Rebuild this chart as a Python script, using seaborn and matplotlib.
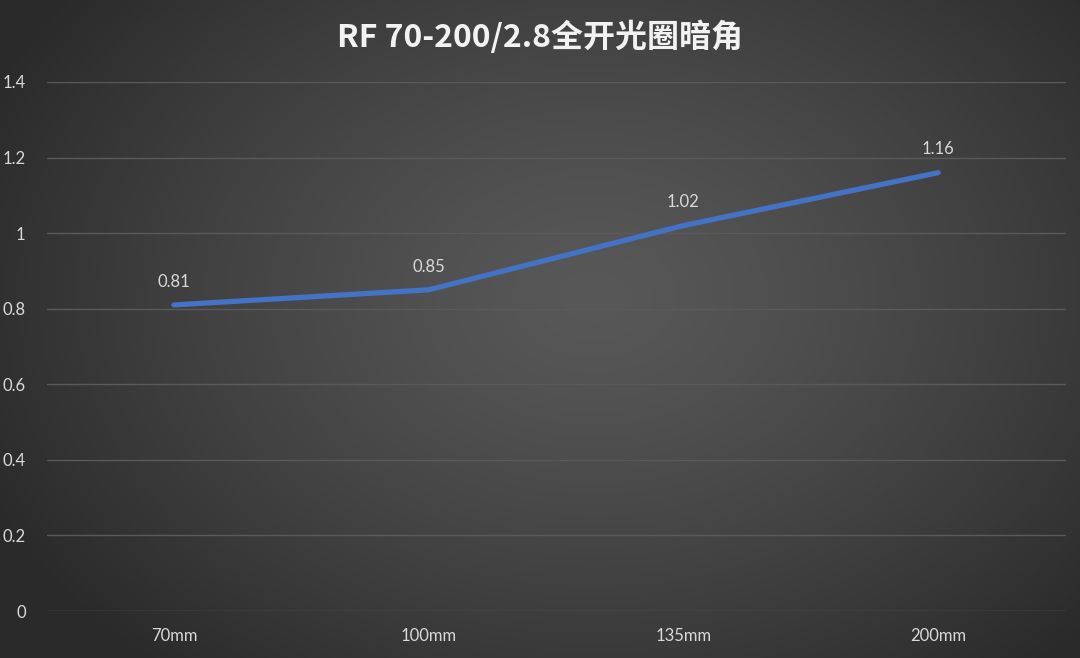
import numpy as np
import pandas as pd
import matplotlib
matplotlib.use("Agg")
import matplotlib.pyplot as plt
import seaborn as sns

categories = ["70mm", "100mm", "135mm", "200mm"]
values = [0.81, 0.85, 1.02, 1.16]
y_ticks = [0, 0.2, 0.4, 0.6, 0.8, 1, 1.2, 1.4]
y_tick_labels = ["0", "0.2", "0.4", "0.6", "0.8", "1", "1.2", "1.4"]
title = "RF 70-200/2.8全开光圈暗角"

sns.set_theme(style="white")
plt.rcParams['font.family'] = ['Lato', 'Noto Sans CJK SC', 'DejaVu Sans']

W, H = 1080, 658
fig = plt.figure(figsize=(W / 100, H / 100), dpi=100)

# radial gradient background
bg = fig.add_axes([0, 0, 1, 1], zorder=0)
yy, xx = np.mgrid[0:H, 0:W]
cx, cy = W * 0.55, H * 0.45
r = np.sqrt(((xx - cx) / (W * 0.62)) ** 2 + ((yy - cy) / (H * 0.75)) ** 2)
r = np.clip(r, 0, 1)
inner, outer = 0x58 / 255, 0x2a / 255
g = inner + (outer - inner) * r ** 1.3
bg.imshow(np.dstack([g, g, g]), aspect="auto", extent=[0, 1, 0, 1])
bg.axis("off")

ax = fig.add_axes([46.5 / W, 1 - 611 / H, (1065.5 - 46.5) / W, (611 - 82) / H], zorder=1)
ax.patch.set_alpha(0)

df = pd.DataFrame({"cat": categories, "val": values})
sns.lineplot(data=df, x="cat", y="val", ax=ax, color="#4472C4", linewidth=3.8,
             sort=False, solid_capstyle="round")

ax.set_xlim(-0.5, len(categories) - 0.5)
ax.set_ylim(0, 1.4)
ax.set_yticks(y_ticks)
ax.set_yticklabels(y_tick_labels)
ax.set_xlabel("")
ax.set_ylabel("")
ax.grid(axis="y", color="#5a5a5a", linewidth=1.0)
ax.grid(axis="x", visible=False)
for s in ax.spines.values():
    s.set_visible(False)
ax.tick_params(axis="both", length=0, colors="#d9d9d9", labelsize=12)
ax.tick_params(axis="y", pad=15)
ax.tick_params(axis="x", pad=12)
for lab in ax.get_yticklabels():
    lab.set_horizontalalignment("right")

for i, v in enumerate(values):
    ax.annotate(f"{v:.2f}", (i, v), xytext=(0, 11), textcoords="offset points",
                ha="center", va="bottom", color="#d9d9d9", fontsize=12)

fig.text(0.5, 1 - 37 / H, title, ha="center", va="center", color="#f2f2f2",
         fontsize=23, fontweight="bold", family=['Noto Sans CJK SC', 'DejaVu Sans'])

fig.savefig("out.png", dpi=100)
